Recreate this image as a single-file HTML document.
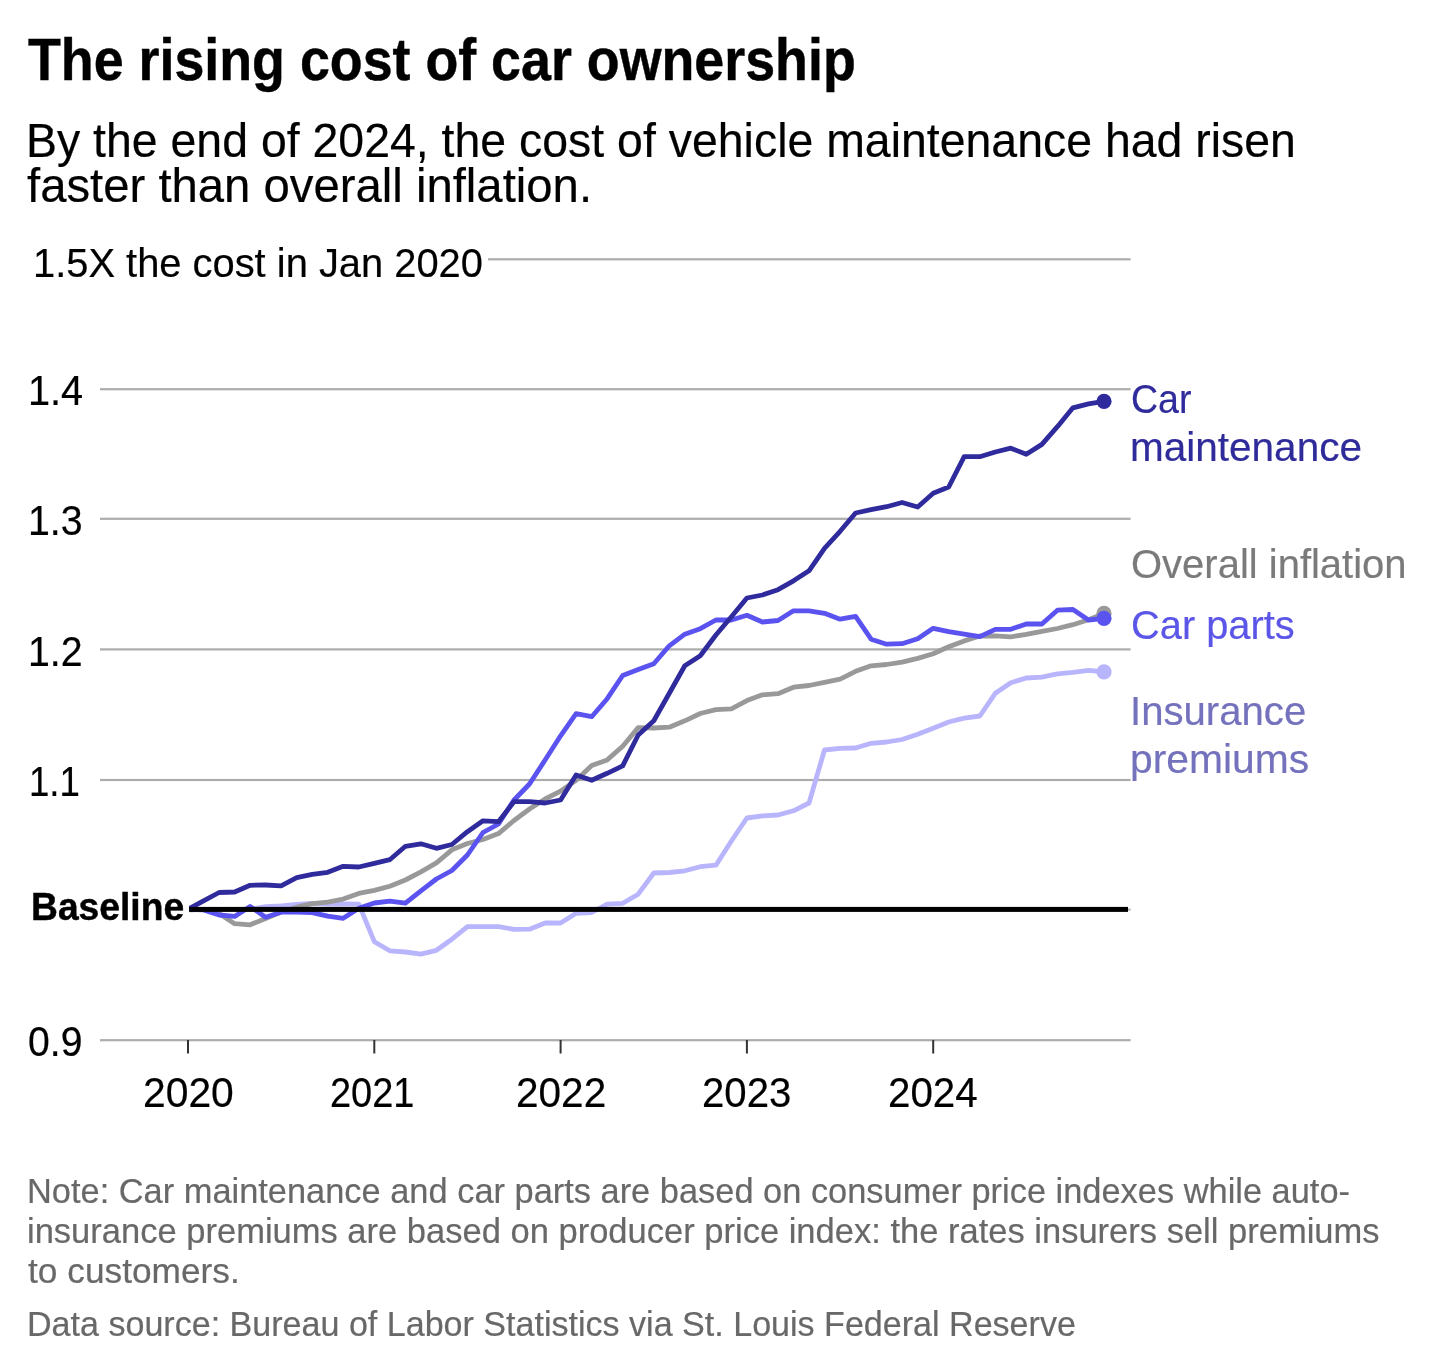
<!DOCTYPE html>
<html lang="en"><head><meta charset="utf-8"><title>The rising cost of car ownership</title>
<style>
html,body{margin:0;padding:0;background:#fff;}
body{width:1440px;height:1371px;position:relative;overflow:hidden;font-family:"Liberation Sans",sans-serif;}
.t{position:absolute;white-space:nowrap;line-height:1;margin:0;padding:0;transform-origin:0 0;-webkit-text-stroke:0.2px currentColor;}
.b{-webkit-text-stroke:0.45px currentColor;}
</style></head><body>
<svg width="1440" height="1371" viewBox="0 0 1440 1371" style="position:absolute;left:0;top:0">
<g fill="#acacac">
<rect x="488" y="258.2" width="642.6" height="2.2"/>
<rect x="100" y="388.1" width="1030.6" height="2.2"/>
<rect x="100" y="517.7" width="1030.6" height="2.2"/>
<rect x="100" y="648.3" width="1030.6" height="2.2"/>
<rect x="100" y="778.9" width="1030.6" height="2.2"/>
<rect x="100" y="1039.1" width="1030.6" height="2.2"/>
<rect x="1120" y="908.6" width="10.6" height="2"/>
</g>
<g fill="#333">
<rect x="187.0" y="1040" width="2" height="13.5"/>
<rect x="373.3" y="1040" width="2" height="13.5"/>
<rect x="559.6" y="1040" width="2" height="13.5"/>
<rect x="745.9" y="1040" width="2" height="13.5"/>
<rect x="932.2" y="1040" width="2" height="13.5"/>
</g>
<clipPath id="cl"><rect x="189.1" y="240" width="1000" height="820"/></clipPath>
<path d="M188.0,909.4 L203.5,909.4 L219.1,909.4 L234.6,909.4 L250.1,909.4 L265.6,906.6 L281.1,905.8 L296.7,904.5 L312.2,903.5 L327.7,904.0 L343.2,904.0 L358.8,904.2 L374.3,941.7 L389.8,950.8 L405.4,952.0 L420.9,954.2 L436.4,950.3 L451.9,939.2 L467.4,926.7 L483.0,926.7 L498.5,926.7 L514.0,929.3 L529.5,929.2 L545.1,923.0 L560.6,923.0 L576.1,913.3 L591.7,912.5 L607.2,904.2 L622.7,903.3 L638.2,894.2 L653.8,873.0 L669.3,872.5 L684.8,870.8 L700.3,866.7 L715.9,865.2 L731.4,841.0 L746.9,818.0 L762.4,815.8 L778.0,815.0 L793.5,810.8 L809.0,803.0 L824.5,750.0 L840.1,748.3 L855.6,748.0 L871.1,743.3 L886.6,742.0 L902.1,739.5 L917.7,734.3 L933.2,728.3 L948.7,722.0 L964.2,718.1 L979.8,716.0 L995.3,693.3 L1010.8,682.7 L1026.3,678.0 L1041.9,677.2 L1057.4,673.8 L1072.9,672.3 L1088.5,670.3 L1104.0,671.8" fill="none" stroke="#b9b5fc" stroke-width="4.8" stroke-linejoin="round" stroke-linecap="round" clip-path="url(#cl)"/>
<circle cx="1104.0" cy="671.8" r="7.6" fill="#b9b5fc"/>
<path d="M188.0,910.0 L203.5,909.5 L219.1,913.4 L234.6,923.7 L250.1,924.8 L265.6,918.6 L281.1,912.0 L296.7,907.2 L312.2,903.7 L327.7,902.1 L343.2,899.1 L358.8,893.4 L374.3,890.4 L389.8,886.2 L405.4,880.0 L420.9,871.9 L436.4,862.9 L451.9,849.8 L467.4,843.5 L483.0,839.5 L498.5,833.6 L514.0,820.5 L529.5,809.0 L545.1,799.0 L560.6,791.1 L576.1,780.3 L591.7,765.5 L607.2,759.9 L622.7,746.2 L638.2,727.6 L653.8,728.0 L669.3,727.2 L684.8,720.8 L700.3,713.5 L715.9,709.6 L731.4,708.9 L746.9,700.6 L762.4,694.8 L778.0,693.7 L793.5,687.2 L809.0,685.5 L824.5,682.3 L840.1,679.1 L855.6,671.3 L871.1,665.8 L886.6,664.5 L902.1,662.1 L917.7,658.4 L933.2,653.7 L948.7,646.8 L964.2,640.9 L979.8,636.0 L995.3,635.9 L1010.8,636.8 L1026.3,634.3 L1041.9,631.4 L1057.4,628.5 L1072.9,624.7 L1088.5,619.7 L1104.0,613.4" fill="none" stroke="#999999" stroke-width="4.8" stroke-linejoin="round" stroke-linecap="round" clip-path="url(#cl)"/>
<circle cx="1104.0" cy="613.4" r="7.6" fill="#999999"/>
<path d="M188.0,909.4 L203.5,909.9 L219.1,915.0 L234.6,916.4 L250.1,906.4 L265.6,917.3 L281.1,912.2 L296.7,912.2 L312.2,912.6 L327.7,916.2 L343.2,918.3 L358.8,908.3 L374.3,903.0 L389.8,901.2 L405.4,903.2 L420.9,890.8 L436.4,879.0 L451.9,870.5 L467.4,855.0 L483.0,832.5 L498.5,824.0 L514.0,800.0 L529.5,784.0 L545.1,760.0 L560.6,735.8 L576.1,713.7 L591.7,716.7 L607.2,698.7 L622.7,675.5 L638.2,669.5 L653.8,663.7 L669.3,645.8 L684.8,634.2 L700.3,628.7 L715.9,620.0 L731.4,620.0 L746.9,615.3 L762.4,622.0 L778.0,620.5 L793.5,610.8 L809.0,610.8 L824.5,613.3 L840.1,619.2 L855.6,616.3 L871.1,639.2 L886.6,644.2 L902.1,643.7 L917.7,638.7 L933.2,628.3 L948.7,631.7 L964.2,634.2 L979.8,636.7 L995.3,629.3 L1010.8,629.3 L1026.3,623.9 L1041.9,624.0 L1057.4,610.2 L1072.9,609.5 L1088.5,620.0 L1104.0,618.3" fill="none" stroke="#5b53f0" stroke-width="4.8" stroke-linejoin="round" stroke-linecap="round" clip-path="url(#cl)"/>
<circle cx="1104.0" cy="618.3" r="7.6" fill="#5b53f0"/>
<path d="M188.0,909.4 L203.5,900.8 L219.1,892.5 L234.6,892.0 L250.1,885.3 L265.6,885.0 L281.1,885.9 L296.7,877.6 L312.2,874.3 L327.7,872.3 L343.2,866.3 L358.8,867.0 L374.3,863.3 L389.8,859.7 L405.4,846.3 L420.9,843.8 L436.4,848.3 L451.9,844.5 L467.4,831.7 L483.0,820.8 L498.5,821.7 L514.0,801.7 L529.5,801.7 L545.1,803.0 L560.6,800.0 L576.1,775.0 L591.7,780.3 L607.2,773.3 L622.7,765.8 L638.2,735.0 L653.8,720.8 L669.3,693.3 L684.8,665.8 L700.3,655.8 L715.9,635.0 L731.4,616.7 L746.9,598.0 L762.4,595.0 L778.0,589.7 L793.5,580.8 L809.0,570.8 L824.5,548.3 L840.1,531.3 L855.6,513.0 L871.1,509.7 L886.6,506.7 L902.1,502.5 L917.7,507.0 L933.2,493.3 L948.7,487.0 L964.2,456.7 L979.8,456.7 L995.3,452.0 L1010.8,448.2 L1026.3,454.3 L1041.9,444.4 L1057.4,426.7 L1072.9,407.8 L1088.5,403.9 L1104.0,401.3" fill="none" stroke="#302b9c" stroke-width="4.8" stroke-linejoin="round" stroke-linecap="round" clip-path="url(#cl)"/>
<circle cx="1104.0" cy="401.3" r="7.6" fill="#302b9c"/>
<rect x="189.2" y="906.9" width="938.8" height="5" fill="#000"/>
</svg>
<h1 class="t b" style="left:27.80px;top:30.80px;font-size:58.4px;color:#000;font-weight:700;transform:scaleX(0.9210)">The rising cost of car ownership</h1>
<p class="t" style="left:26.27px;top:116.50px;font-size:47.3px;color:#000;font-weight:400;transform:scaleX(0.9817)">By the end of 2024, the cost of vehicle maintenance had risen</p>
<p class="t" style="left:27.00px;top:162.00px;font-size:47.3px;color:#000;font-weight:400;transform:scaleX(0.9996)">faster than overall inflation.</p>
<div class="t" style="left:33.17px;top:242.90px;font-size:40.8px;color:#000;font-weight:400;transform:scaleX(0.9772)">1.5X the cost in Jan 2020</div>
<div class="t" style="left:28.38px;top:370.40px;font-size:42.2px;color:#000;font-weight:400;transform:scaleX(0.9400)">1.4</div>
<div class="t" style="left:28.41px;top:499.90px;font-size:42.2px;color:#000;font-weight:400;transform:scaleX(0.9315)">1.3</div>
<div class="t" style="left:28.41px;top:630.50px;font-size:42.2px;color:#000;font-weight:400;transform:scaleX(0.9315)">1.2</div>
<div class="t" style="left:28.60px;top:761.10px;font-size:42.2px;color:#000;font-weight:400;transform:scaleX(0.8667)">1.1</div>
<div class="t" style="left:28.15px;top:1021.30px;font-size:42.2px;color:#000;font-weight:400;transform:scaleX(0.9273)">0.9</div>
<div class="t b" style="left:30.71px;top:886.60px;font-size:39.3px;color:#000;font-weight:700;transform:scaleX(0.9472)">Baseline</div>
<div class="t" style="left:143.06px;top:1072.00px;font-size:42.2px;color:#000;font-weight:400;transform:scaleX(0.9678)">2020</div>
<div class="t" style="left:330.20px;top:1072.00px;font-size:42.2px;color:#000;font-weight:400;transform:scaleX(0.9000)">2021</div>
<div class="t" style="left:516.08px;top:1072.00px;font-size:42.2px;color:#000;font-weight:400;transform:scaleX(0.9611)">2022</div>
<div class="t" style="left:701.90px;top:1072.00px;font-size:42.2px;color:#000;font-weight:400;transform:scaleX(0.9522)">2023</div>
<div class="t" style="left:888.09px;top:1072.00px;font-size:42.2px;color:#000;font-weight:400;transform:scaleX(0.9560)">2024</div>
<div class="t" style="left:1131.16px;top:378.70px;font-size:40.8px;color:#2f2b9b;font-weight:400;transform:scaleX(0.9206)">Car</div>
<div class="t" style="left:1130.02px;top:427.10px;font-size:40.8px;color:#2f2b9b;font-weight:400;transform:scaleX(0.9930)">maintenance</div>
<div class="t" style="left:1130.94px;top:544.20px;font-size:40.8px;color:#7a7a7a;font-weight:400;transform:scaleX(0.9801)">Overall inflation</div>
<div class="t" style="left:1130.95px;top:605.30px;font-size:40.8px;color:#5b55e8;font-weight:400;transform:scaleX(0.9756)">Car parts</div>
<div class="t" style="left:1129.86px;top:691.10px;font-size:40.8px;color:#7471bd;font-weight:400;transform:scaleX(0.9838)">Insurance</div>
<div class="t" style="left:1130.30px;top:738.90px;font-size:40.8px;color:#7471bd;font-weight:400;transform:scaleX(1.0006)">premiums</div>
<p class="t" style="left:27.05px;top:1172.50px;font-size:35.0px;color:#686868;font-weight:400;transform:scaleX(0.9827)">Note: Car maintenance and car parts are based on consumer price indexes while auto-</p>
<p class="t" style="left:27.23px;top:1212.50px;font-size:35.0px;color:#686868;font-weight:400;transform:scaleX(0.9862)">insurance premiums are based on producer price index: the rates insurers sell premiums</p>
<p class="t" style="left:28.00px;top:1252.50px;font-size:35.0px;color:#686868;font-weight:400;transform:scaleX(1.0082)">to customers.</p>
<p class="t" style="left:27.08px;top:1305.70px;font-size:35.0px;color:#686868;font-weight:400;transform:scaleX(0.9732)">Data source: Bureau of Labor Statistics via St. Louis Federal Reserve</p>
</body></html>
